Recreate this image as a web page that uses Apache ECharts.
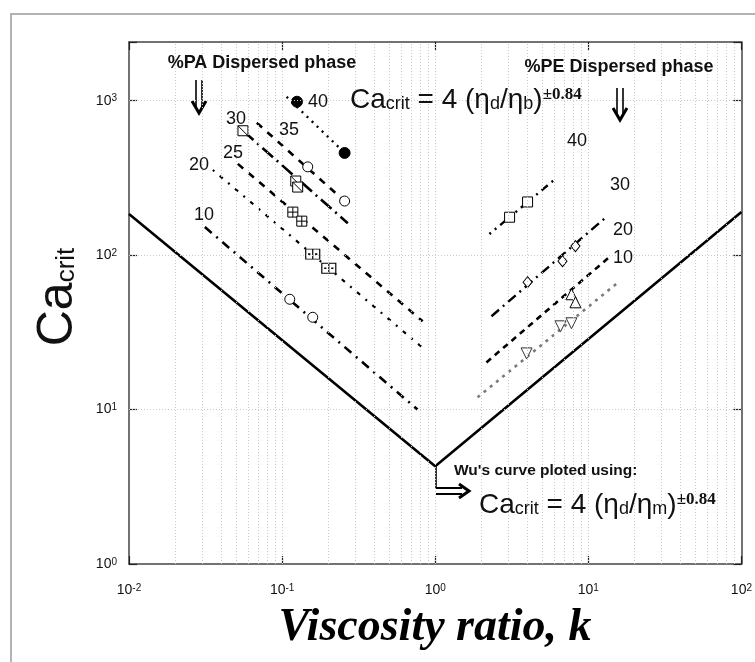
<!DOCTYPE html>
<html>
<head>
<meta charset="utf-8">
<script src="https://cdn.jsdelivr.net/npm/echarts@6/dist/echarts.min.js"></script>
<style>
  html, body { margin: 0; padding: 0; background: #fff; }
  #chart { width: 755px; height: 662px; }
</style>
</head>
<body>
<div id="chart"></div>
<script>
// ---- Data: critical capillary number vs viscosity ratio (log-log) ----

// Wu's correlation, Ca = 4 k^(±0.84)
const wuCurve = [[0.01, 185], [1, 4.3], [100, 190]];

// PA dispersed phase (k < 1): fitted lines and measured points
const pa40Line = [[0.107, 1060], [0.256, 459]];
const pa40Pts  = [[0.125, 985], [0.256, 459]];
const pa35Line = [[0.0684, 719], [0.256, 224]];
const pa35Pts  = [[0.147, 373], [0.256, 224]];
const pa30Line = [[0.0555, 639], [0.2686, 161]];
const pa30Pts  = [[0.0555, 639], [0.1228, 302], [0.1264, 276]];
const pa25Line = [[0.0514, 390], [0.828, 37.3]];
const pa25Pts  = [[0.1175, 190], [0.1344, 166]];
const pa20Line = [[0.0353, 356], [0.853, 24.5]];
const pa20Pts  = [[0.1585, 101.5], [0.2018, 82.3]];
const pa10Line = [[0.0313, 152], [0.767, 10]];
const pa10Pts  = [[0.1122, 51.8], [0.1585, 39.6]];

// PE dispersed phase (k > 1)
const pe40Line = [[2.26, 137], [6.19, 316]];
const pe40Pts  = [[3.06, 176], [4.01, 221]];
const pe30Line = [[2.33, 40.2], [13.1, 176.6]];
const pe30Pts  = [[4.01, 66.8], [6.78, 91.4], [8.24, 114.4]];
const pe20Line = [[2.16, 20.2], [13.7, 97]];
const pe20Pts  = [[7.76, 55.8], [8.24, 49.5]];
const pe10Line = [[1.89, 12], [15.7, 66.8]];
const pe10Pts  = [[3.95, 23.1], [6.58, 34.6], [7.76, 36.2]];

// Grid line positions
const gridX = [0.02, 0.03, 0.04, 0.05, 0.06, 0.07, 0.08, 0.09, 0.1,
               0.2, 0.3, 0.4, 0.5, 0.6, 0.7, 0.8, 0.9, 1,
               2, 3, 4, 5, 6, 7, 8, 9, 10,
               20, 30, 40, 50, 60, 70, 80, 90];
const gridY = [10, 100, 1000];

// Level labels (% dispersed phase)
const paLabels = ['40', '35', '30', '25', '20', '10'];
const peLabels = ['40', '30', '20', '10'];

// ---- Marker shapes ----
const SQ_DIAG  = 'path://M0 0H10V10H0Z M0 0L10 10';
const SQ_PLUS  = 'path://M0 0H10V10H0Z M5 0V10 M0 5H10';
const SQ_SPLIT = 'path://M0 0H14V10H0Z M7 0V10 M3 4.6H4V5.4H3Z M10 4.6H11V5.4H10Z';

function lineSeries(data, dash, width, color) {
  return {
    type: 'line', data: data, showSymbol: false, symbol: 'none', z: 3,
    lineStyle: { type: dash, width: width, color: color || '#000', cap: 'butt' },
    emphasis: { disabled: true }, silent: true
  };
}
function markerSeries(data, symbol, size, fill, stroke, rotate) {
  return {
    type: 'scatter', data: data, symbol: symbol, symbolSize: size,
    symbolRotate: rotate || 0, z: 4,
    itemStyle: { color: fill, borderColor: stroke || '#000', borderWidth: 1, opacity: 1 },
    emphasis: { disabled: true }, silent: true
  };
}

function powLabel(v) {
  const e = Math.round(Math.log10(v));
  if (Math.abs(Math.log10(v) - e) > 1e-6) return '';
  return '{b|10}{e|' + e + '}';
}
const labelRich = {
  b: { fontSize: 14, fontFamily: 'Liberation Sans', color: '#111' },
  e: { fontSize: 10, fontFamily: 'Liberation Sans', color: '#111', verticalAlign: 'top' }
};

const axisLineStyle = { color: '#444', width: 1.5 };
const tickStyle = { show: true, inside: true, length: 8, lineStyle: { color: '#222', width: 1.2 } };

const option = {
  animation: false,
  grid: { left: 129, right: 13, top: 42, bottom: 98 },
  xAxis: [
    { type: 'log', logBase: 10, min: 0.01, max: 100, position: 'bottom',
      axisLine: { show: true, lineStyle: axisLineStyle },
      axisTick: tickStyle, splitLine: { show: false },
      axisLabel: { formatter: powLabel, rich: labelRich, margin: 19 } },
    { type: 'log', logBase: 10, min: 0.01, max: 100, position: 'top',
      axisLine: { show: true, lineStyle: axisLineStyle },
      axisTick: tickStyle, splitLine: { show: false }, axisLabel: { show: false } }
  ],
  yAxis: [
    { type: 'log', logBase: 10, min: 1, max: 2400, position: 'left',
      axisLine: { show: true, lineStyle: axisLineStyle },
      axisTick: tickStyle, splitLine: { show: false },
      axisLabel: { formatter: powLabel, rich: labelRich, margin: 12 } },
    { type: 'log', logBase: 10, min: 1, max: 2400, position: 'right',
      axisLine: { show: true, lineStyle: axisLineStyle },
      axisTick: tickStyle, splitLine: { show: false }, axisLabel: { show: false } }
  ],
  series: [
    // dotted reference grid
    {
      type: 'line', data: wuCurve, symbol: 'none', z: 1, silent: true,
      lineStyle: { opacity: 0, width: 0 },
      markLine: {
        silent: true, symbol: ['none', 'none'], label: { show: false }, animation: false,
        lineStyle: { type: [1, 2], color: '#cbcbcb', width: 1 },
        emphasis: { disabled: true },
        data: gridX.map(v => ({ xAxis: v })).concat(gridY.map(v => ({ yAxis: v })))
      }
    },
    // Wu's curve
    lineSeries(wuCurve, 'solid', 2.6, '#000'),
    // PA lines
    lineSeries(pa40Line, [2, 5], 2.4),
    lineSeries(pa35Line, [7, 7], 2.6),
    lineSeries(pa30Line, [14, 5, 2, 5], 2.6),
    lineSeries(pa25Line, [7, 7], 2.6),
    lineSeries(pa20Line, [2, 7, 4, 7], 2.2),
    lineSeries(pa10Line, [9, 6, 2, 6], 2.6),
    // PE lines
    lineSeries(pe40Line, [2, 5, 2, 5, 8, 5], 2.4),
    lineSeries(pe30Line, [10, 5, 2, 5], 2.4),
    lineSeries(pe20Line, [6, 5], 2.6),
    lineSeries(pe10Line, [3, 5], 2.6, '#7a7a7a'),
    // PA markers
    markerSeries(pa40Pts, 'circle', 11, '#000'),
    markerSeries(pa35Pts, 'circle', 10, '#fff'),
    markerSeries(pa30Pts, SQ_DIAG, 10, '#fff'),
    markerSeries(pa25Pts, SQ_PLUS, 10, '#fff'),
    markerSeries(pa20Pts, SQ_SPLIT, [14, 10], '#fff'),
    markerSeries(pa10Pts, 'circle', 10, '#fff'),
    // PE markers
    markerSeries(pe40Pts, 'rect', 10, '#fff'),
    markerSeries(pe30Pts, 'diamond', [9, 11], '#fff'),
    markerSeries(pe20Pts, 'triangle', 11, '#fff'),
    markerSeries(pe10Pts, 'triangle', 11, '#fff', '#333', 180)
  ],
  graphic: []
};

// ---- Annotations ----
const g = [];
const sans = 'Liberation Sans';

// outer frame
g.push({ type: 'rect', shape: { x: 11, y: 14, width: 760, height: 660 },
  style: { fill: 'none', stroke: '#9a9a9a', lineWidth: 1.5 }, silent: true, z: 0 });

function txt(x, y, text, size, extra) {
  return Object.assign({ type: 'text', x: x, y: y, silent: true, z: 10,
    style: Object.assign({ text: text, fontSize: size, fontFamily: sans, fill: '#111',
      align: 'center', verticalAlign: 'middle' }, extra || {}) });
}

// headers
g.push(txt(262, 63, '%PA Dispersed phase', 18, { fontWeight: 'bold' }));
g.push(txt(619, 67, '%PE Dispersed phase', 18, { fontWeight: 'bold' }));

// double down arrows
function downArrow(cx, top, bottom) {
  return {
    type: 'group', silent: true, z: 10,
    children: [
      { type: 'line', shape: { x1: cx - 3, y1: top, x2: cx - 3, y2: bottom - 6 }, style: { stroke: '#000', lineWidth: 1.6 } },
      { type: 'line', shape: { x1: cx + 3, y1: top, x2: cx + 3, y2: bottom - 6 }, style: { stroke: '#000', lineWidth: 1.6 } },
      { type: 'polyline', shape: { points: [[cx - 7, bottom - 12], [cx, bottom], [cx + 7, bottom - 12]] },
        style: { stroke: '#000', lineWidth: 3, fill: 'none' } }
    ]
  };
}
g.push(downArrow(199, 80, 113));
g.push(downArrow(620, 88, 120));

// level labels
const paPos = [[318, 102], [289, 130], [236, 119], [233, 153], [199, 165], [204, 215]];
paLabels.forEach((t, i) => g.push(txt(paPos[i][0], paPos[i][1], t, 18)));
const pePos = [[577, 141], [620, 185], [623, 230], [623, 258]];
peLabels.forEach((t, i) => g.push(txt(pePos[i][0], pePos[i][1], t, 18)));

// equations
const eqRich = {
  ca: { fontSize: 28, fontFamily: sans, fill: '#111' },
  sub: { fontSize: 18, fontFamily: sans, fill: '#111', verticalAlign: 'bottom', padding: [0, 0, 1, 0] },
  sup: { fontSize: 17, fontFamily: 'Liberation Serif', fontWeight: 'bold', fill: '#111', verticalAlign: 'top' }
};
function equation(x, y, denom) {
  return { type: 'text', x: x, y: y, silent: true, z: 10,
    style: { text: '{ca|Ca}{sub|crit}{ca| = 4 (η}{sub|d}{ca|/η}{sub|' + denom + '}{ca|)}{sup|±0.84}',
      rich: eqRich, align: 'left', verticalAlign: 'middle' } };
}
g.push(equation(350, 100, 'b'));
g.push(equation(479, 505, 'm'));

// Wu's curve note and arrow
g.push(txt(454, 471, "Wu's curve ploted using:", 15.5, { fontWeight: 'bold', align: 'left' }));
g.push({ type: 'group', silent: true, z: 10, children: [
  { type: 'line', shape: { x1: 436, y1: 466, x2: 436, y2: 488 }, style: { stroke: '#000', lineWidth: 1.6 } },
  { type: 'line', shape: { x1: 436, y1: 488, x2: 462, y2: 488 }, style: { stroke: '#000', lineWidth: 2 } },
  { type: 'line', shape: { x1: 436, y1: 494, x2: 462, y2: 494 }, style: { stroke: '#000', lineWidth: 2 } },
  { type: 'polyline', shape: { points: [[459, 484], [469, 491], [459, 498]] }, style: { stroke: '#000', lineWidth: 3, fill: 'none' } }
] });

// axis titles
g.push({ type: 'text', x: 58, y: 297, rotation: Math.PI / 2, silent: true, z: 10,
  style: { text: '{ca|Ca}{sub|crit}', align: 'center', verticalAlign: 'middle',
    rich: { ca: { fontSize: 50, fontFamily: sans, fill: '#111' },
            sub: { fontSize: 26, fontFamily: sans, fill: '#111', verticalAlign: 'bottom', padding: [0, 0, 3, 0] } } } });
g.push(txt(435, 628, 'Viscosity ratio, k', 46,
  { fontFamily: 'Liberation Serif', fontStyle: 'italic', fontWeight: 'bold', fill: '#000' }));

option.graphic = g;

const chart = echarts.init(document.getElementById('chart'), null, { renderer: 'canvas' });
chart.setOption(option);
</script>
</body>
</html>
